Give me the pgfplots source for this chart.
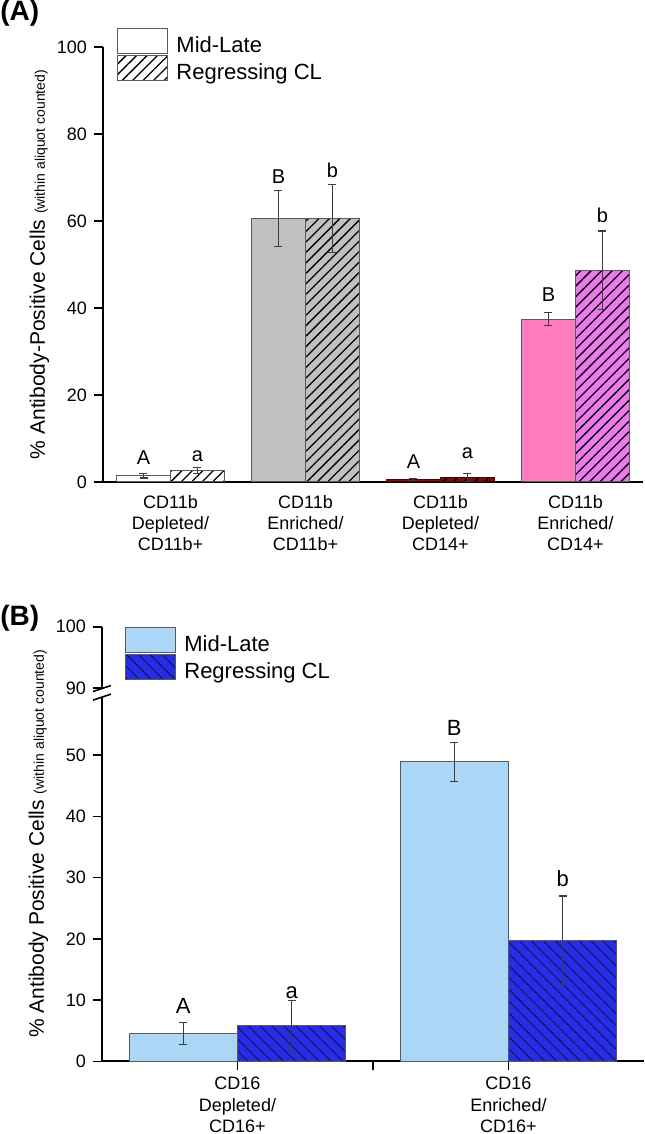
\documentclass[border=0pt]{standalone}
\usepackage{fontspec}
\setmainfont{Liberation Sans}
\usepackage{pgfplots}
\pgfplotsset{compat=1.18}
\usetikzlibrary{patterns.meta}

\definecolor{edge}{RGB}{90,90,90}
\definecolor{errc}{RGB}{60,60,60}
\definecolor{grayA}{RGB}{192,192,192}
\definecolor{maroonA}{RGB}{125,12,12}
\definecolor{pinkA}{RGB}{255,125,190}
\definecolor{violetA}{RGB}{236,122,236}
\definecolor{lightB}{RGB}{172,214,246}
\definecolor{darkB}{RGB}{38,44,232}
\definecolor{navy}{RGB}{20,20,80}

\pgfplotsset{
  common/.style={
    scale only axis,
    axis x line*=bottom, axis y line*=left,
    axis line style={line width=1pt,-},
    tick align=outside, major tick length=4.5pt,
    tick style={line width=0.8pt,black},
    /pgf/number format/assume math mode=true,
    yticklabel style={font=\fontsize{9}{10}\selectfont},
    xticklabel style={align=center,font=\fontsize{9}{10.6}\selectfont},
    ylabel style={yshift=-3pt},
    every axis plot/.append style={ybar,bar width=0.4,bar shift=0pt,draw=edge,line width=0.5pt,
      error bars/y dir=both,error bars/y explicit,
      error bars/error bar style={errc,line width=0.6pt},
      error bars/error mark options={rotate=90,mark size=2pt,line width=0.6pt,errc}},
    legend cell align=left,
    legend image code/.code={\draw[##1] (0pt,-4pt) rectangle (25pt,8.5pt);},
  },
  hatchA/.style={postaction={pattern color=black,pattern={Lines[angle=45,distance=3.7pt,line width=0.65pt]}}},
  hatchB/.style={postaction={pattern color=navy,pattern={Lines[angle=-45,distance=4.2pt,line width=0.5pt]}}},
}

\begin{document}
\begin{tikzpicture}
\useasboundingbox (-51pt,-36.35pt) rectangle (271pt,530.65pt);

% ---------- panel A ----------
\begin{axis}[common,
  at={(0.5pt,289.65pt)}, anchor=south west,
  width=270pt, height=217.5pt,
  xmin=-0.5, xmax=3.5, ymin=0, ymax=100,
  ytick={0,20,40,60,80,100},
  xtick={0,1,2,3},
  xticklabels={{CD11b\\Depleted/\\CD11b+},{CD11b\\Enriched/\\CD11b+},{CD11b\\Depleted/\\CD14+},{CD11b\\Enriched/\\CD14+}},
  x tick style={draw=none},
  xticklabel style={yshift=1.5pt},
  ylabel={\fontsize{10.5}{12}\selectfont\% Antibody-Positive Cells {\fontsize{7}{8}\selectfont(within aliquot counted)}},
  legend style={at={(0.026,1.0437)},anchor=north west,draw=none,fill=none,inner sep=0pt,row sep=0pt,
    nodes={inner xsep=4pt,inner ysep=0pt,font=\fontsize{11}{13}\selectfont}},
]
\addplot[fill=white] coordinates {(-0.2,1.4) +- (0,0.5)};
\addlegendentry{Mid-Late}
\addplot[fill=white,hatchA] coordinates {(0.2,2.7) +- (0,0.7)};
\addlegendentry{Regressing CL}
\addplot[fill=grayA,forget plot] coordinates {(0.8,60.6) +- (0,6.5)};
\addplot[fill=grayA,hatchA,forget plot] coordinates {(1.2,60.6) +- (0,7.8)};
\addplot[fill=maroonA,draw=maroonA!60!black,forget plot] coordinates {(1.8,0.6) +- (0,0.2)};
\addplot[fill=maroonA,draw=maroonA!60!black,hatchA,forget plot] coordinates {(2.2,1.1) +- (0,0.9)};
\addplot[fill=pinkA,forget plot] coordinates {(2.8,37.4) +- (0,1.5)};
\addplot[fill=violetA,hatchA,forget plot] coordinates {(3.2,48.7) +- (0,9.0)};

\begin{scope}[every node/.style={anchor=base,inner sep=0pt,font=\fontsize{10}{12}\selectfont}]
\node at (axis cs:-0.2,4.1) {A};
\node at (axis cs:0.2,4.8) {a};
\node at (axis cs:0.8,68.7) {B};
\node at (axis cs:1.2,69.9) {b};
\node at (axis cs:1.8,3.0) {A};
\node at (axis cs:2.2,5.4) {a};
\node at (axis cs:2.8,41.4) {B};
\node at (axis cs:3.2,59.7) {b};
\end{scope}
\end{axis}

% ---------- panel B ----------
\begin{axis}[common,
  at={(0pt,0pt)}, anchor=south west,
  width=271pt, height=217.3pt,
  xmin=-0.5, xmax=1.5, ymin=0, ymax=71,
  ytick={0,10,20,30,40,50,61,71},
  yticklabels={0,10,20,30,40,50,90,100},
  xtick={0,0.5,1},
  xticklabels={{CD16\\Depleted/\\CD16+},{},{CD16\\Enriched/\\CD16+}},
  ylabel={\fontsize{10.5}{12}\selectfont\% Antibody Positive Cells {\fontsize{7}{8}\selectfont(within aliquot counted)}},
  legend style={at={(0.0424,1.0)},anchor=north west,draw=none,fill=none,inner sep=0pt,row sep=0pt,
    nodes={inner xsep=4pt,inner ysep=0pt,font=\fontsize{11}{13}\selectfont}},
]
\addplot[fill=lightB] coordinates {(-0.2,4.6) +- (0,1.8)};
\addlegendentry{Mid-Late}
\addplot[fill=darkB,hatchB] coordinates {(0.2,5.8) +- (0,4.1)};
\addlegendentry{Regressing CL}
\addplot[fill=lightB,forget plot] coordinates {(0.8,48.9) +- (0,3.2)};
\addplot[fill=darkB,hatchB,forget plot] coordinates {(1.2,19.8) +- (0,7.2)};

\begin{scope}[every node/.style={anchor=base,inner sep=0pt,font=\fontsize{11}{13}\selectfont}]
\node at (axis cs:-0.2,7.8) {A};
\node at (axis cs:0.2,10.3) {a};
\node at (axis cs:0.8,53.2) {B};
\node at (axis cs:1.2,28.5) {b};
\end{scope}
\coordinate (brkhi) at (axis cs:-0.5,60.9);
\coordinate (brklo) at (axis cs:-0.5,59.5);
\end{axis}

% axis break marks
\fill[white] ([xshift=-1.5pt]brklo) rectangle ([xshift=1.5pt]brkhi);
\draw[line width=0.8pt] ([xshift=-4.5pt,yshift=-1.5pt]brkhi) -- ([xshift=4.5pt,yshift=1.5pt]brkhi);
\draw[line width=0.8pt] ([xshift=-4.5pt,yshift=-1.5pt]brklo) -- ([xshift=4.5pt,yshift=1.5pt]brklo);

\node[anchor=north west,inner sep=0pt,font=\bfseries\fontsize{14}{16}\selectfont] at (-51pt,530.65pt) {(A)};
\node[anchor=north west,inner sep=0pt,font=\bfseries\fontsize{14}{16}\selectfont] at (-51pt,228.15pt) {(B)};
\end{tikzpicture}
\end{document}
